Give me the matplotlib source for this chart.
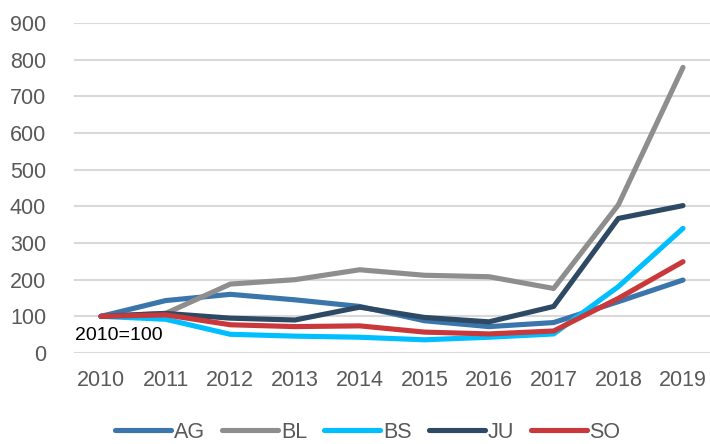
import matplotlib
matplotlib.use("Agg")
import matplotlib.pyplot as plt

years = [2010, 2011, 2012, 2013, 2014, 2015, 2016, 2017, 2018, 2019]
AG = [100, 143, 160, 145, 127, 88, 72, 83, 140, 199]
BL = [100, 108, 188, 200, 227, 212, 208, 176, 404, 779]
BS = [100, 92, 51, 46, 43, 36, 43, 52, 181, 340]
JU = [100, 108, 95, 90, 125, 97, 85, 127, 367, 402]
SO = [100, 104, 77, 72, 74, 57, 52, 60, 149, 249]

series = [("AG", AG, "#3A75AB"), ("BL", BL, "#8E8E8E"), ("BS", BS, "#00BFFF"),
          ("JU", JU, "#2E4963"), ("SO", SO, "#C9383A")]

plt.rcParams['font.family'] = ['Liberation Sans', 'DejaVu Sans']
fig = plt.figure(figsize=(7.1, 4.44), dpi=100)
ax = fig.add_axes([74/710, 1-353/444, 1-74/710, (353-23)/444])

for name, vals, col in series:
    ax.plot(years, vals, color=col, lw=3.7, solid_capstyle='round',
            solid_joinstyle='round', label=name, zorder=3)

ax.set_ylim(0, 900)
ax.set_xlim(2010 - 27/64.67, 2019 + 27/64.67)
ax.set_yticks(range(0, 901, 100))
ax.set_xticks(years)
ax.set_xticklabels([str(y) for y in years])
ax.grid(axis='y', color='#D9D9D9', lw=1.5, zorder=0)
for s in ax.spines.values():
    s.set_visible(False)
ax.tick_params(length=0, labelsize=15.5, colors='#595959', pad=6)
ax.tick_params(axis='y', pad=20)
ax.tick_params(axis='x', pad=12)

ax.text(2009.6, 47, "2010=100", fontsize=14, color='black', va='center', ha='left', zorder=4)

leg = fig.legend(loc='center', bbox_to_anchor=(368/710, 1-432/444), ncol=5, frameon=False,
                 fontsize=15.5, handlelength=2.6, handletextpad=0.12, columnspacing=0.8)
for t in leg.get_texts():
    t.set_color('#595959')

fig.savefig("out.png", dpi=100)
